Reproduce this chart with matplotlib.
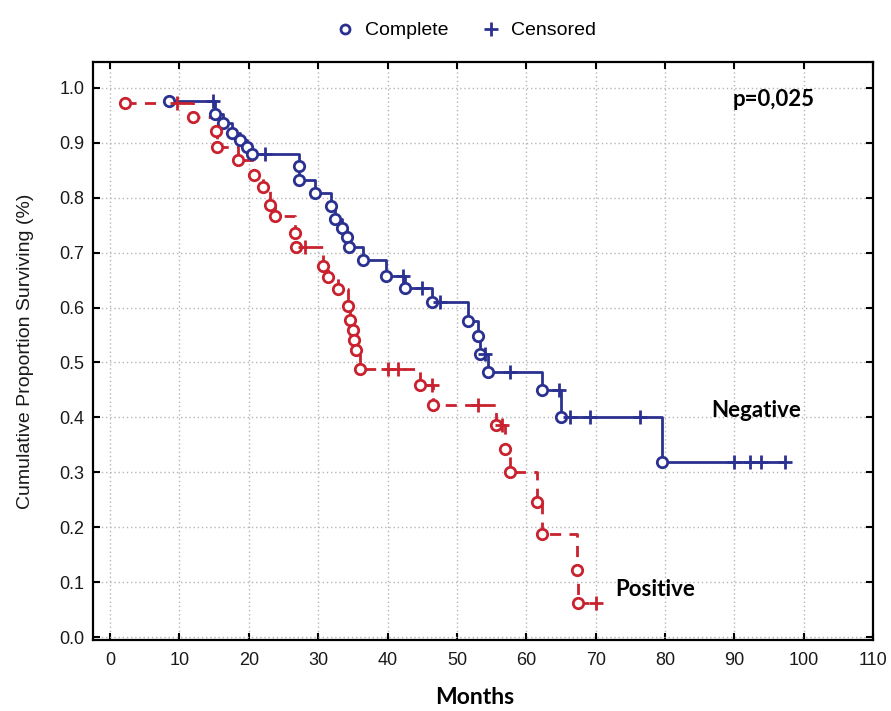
import matplotlib
matplotlib.use("Agg")
import matplotlib.pyplot as plt
from matplotlib.lines import Line2D
import numpy as np

# Dados (tempo em meses, sobrevida acumulada, 1 = completo / 0 = censurado)
neg_tempo = [8.5, 14.9, 15.1, 16.3, 17.6, 18.7, 19.7, 20.5, 22.3, 27.2, 27.3, 29.6,
             31.8, 32.4, 33.4, 34.1, 34.5, 36.5, 39.8, 42.2, 42.5, 45.0, 46.4, 47.5,
             51.6, 53.0, 53.3, 54.0, 54.5, 57.6, 62.2, 64.7, 65.0, 66.3, 69.2, 76.4,
             79.5, 90.0, 92.2, 93.9, 97.3]
neg_sobrev = [0.975, 0.975, 0.952, 0.936, 0.918, 0.905, 0.893, 0.880, 0.880, 0.857, 0.832, 0.808,
              0.784, 0.762, 0.744, 0.729, 0.710, 0.687, 0.657, 0.657, 0.636, 0.636, 0.610, 0.610,
              0.576, 0.548, 0.516, 0.516, 0.483, 0.483, 0.450, 0.450, 0.400, 0.400, 0.400, 0.400,
              0.318, 0.318, 0.318, 0.318, 0.318]
neg_evento = [1, 0, 1, 1, 1, 1, 1, 1, 0, 1, 1, 1,
              1, 1, 1, 1, 1, 1, 1, 0, 1, 0, 1, 0,
              1, 1, 1, 0, 1, 0, 1, 0, 1, 0, 0, 0,
              1, 0, 0, 0, 0]

pos_tempo = [2.2, 9.6, 12.0, 15.3, 15.4, 18.5, 20.7, 22.1, 23.0, 23.8, 26.7, 26.8,
             28.1, 30.7, 31.4, 32.9, 34.3, 34.6, 35.0, 35.2, 35.5, 36.0, 40.1, 41.5,
             44.7, 46.4, 46.6, 53.1, 55.6, 56.5, 57.0, 57.6, 61.6, 62.2, 67.3, 67.5,
             70.1]
pos_sobrev = [0.973, 0.973, 0.946, 0.921, 0.893, 0.869, 0.842, 0.820, 0.787, 0.766, 0.735, 0.711,
              0.711, 0.675, 0.656, 0.633, 0.602, 0.577, 0.559, 0.541, 0.523, 0.489, 0.489, 0.489,
              0.459, 0.459, 0.423, 0.423, 0.387, 0.387, 0.342, 0.300, 0.246, 0.187, 0.122, 0.062,
              0.062]
pos_evento = [1, 0, 1, 1, 1, 1, 1, 1, 1, 1, 1, 1,
              0, 1, 1, 1, 1, 1, 1, 1, 1, 1, 0, 0,
              1, 0, 1, 0, 1, 0, 1, 1, 1, 1, 1, 1,
              0]

x_ticks = [0, 10, 20, 30, 40, 50, 60, 70, 80, 90, 100, 110]
y_ticks = [0.0, 0.1, 0.2, 0.3, 0.4, 0.5, 0.6, 0.7, 0.8, 0.9, 1.0]

AZUL = "#2b3190"
VERMELHO = "#c9222e"


def plot_curva(ax, tempo, sobrev, evento, cor, estilo):
    """
    Desenha uma curva de Kaplan-Meier em degraus, com círculos nos eventos
    completos e cruzes nos censurados.
    """
    tempo = np.array(tempo)
    sobrev = np.array(sobrev)
    evento = np.array(evento)

    ax.step(tempo, sobrev, where="post", color=cor, lw=2.0, ls=estilo, zorder=3)

    # Eventos completos
    ax.plot(tempo[evento == 1], sobrev[evento == 1], "o", ms=7.5, mfc="white",
            mec=cor, mew=2.0, zorder=4)
    # Censurados
    ax.plot(tempo[evento == 0], sobrev[evento == 0], "+", ms=10, color=cor,
            mew=2.0, zorder=4)


fig = plt.figure(figsize=(8.91, 7.11), dpi=100)
ax = fig.add_axes([0.104, 0.0999, 0.876, 0.813])

plot_curva(ax, neg_tempo, neg_sobrev, neg_evento, AZUL, "-")
plot_curva(ax, pos_tempo, pos_sobrev, pos_evento, VERMELHO, (0, (4, 3)))

# Configurações dos eixos
ax.set_xlim(-2.5, 110)
ax.set_ylim(-0.005, 1.047)
ax.set_xticks(x_ticks)
ax.set_yticks(y_ticks)
ax.set_yticklabels([f"{v:.1f}" for v in y_ticks])
ax.tick_params(direction="in", top=True, right=True, length=5, width=1.5,
               labelsize=13)
ax.tick_params(axis="x", pad=9)
ax.tick_params(axis="y", pad=6)
for lado in ax.spines.values():
    lado.set_linewidth(1.6)
for rot in ax.get_xticklabels() + ax.get_yticklabels():
    rot.set_fontfamily("Liberation Sans")
    rot.set_color("#1a1a1a")
ax.grid(True, color="#b5b5b5", ls=(0, (1, 2)), lw=1.0)

ax.set_ylabel("Cumulative Proportion Surviving (%)", fontsize=14,
              family="Liberation Sans", labelpad=18, color="#1a1a1a")
fig.text(0.533, 0.004, "Months", ha="center", va="bottom", fontsize=16.5,
         fontweight="bold", family="Lato")

ax.text(89.8, 0.978, "p=0,025", ha="left", va="center", fontsize=16,
        fontweight="bold", family="Lato")
ax.text(86.7, 0.413, "Negative", ha="left", va="center", fontsize=16,
        fontweight="bold", family="Lato")
ax.text(72.8, 0.086, "Positive", ha="left", va="center", fontsize=16,
        fontweight="bold", family="Lato")

# Legenda no topo
itens = [Line2D([], [], ls="none", marker="o", ms=6.5, mfc="white", mec=AZUL, mew=2),
         Line2D([], [], ls="none", marker="+", ms=10, color=AZUL, mew=2)]
fig.legend(itens, ["Complete", "Censored"], loc="center", ncol=2,
           bbox_to_anchor=(0.52, 0.957), frameon=False,
           prop={"family": "Liberation Sans", "size": 14},
           handletextpad=0.3, columnspacing=1.4, handlelength=1.5)

fig.savefig("out.png", dpi=100)
